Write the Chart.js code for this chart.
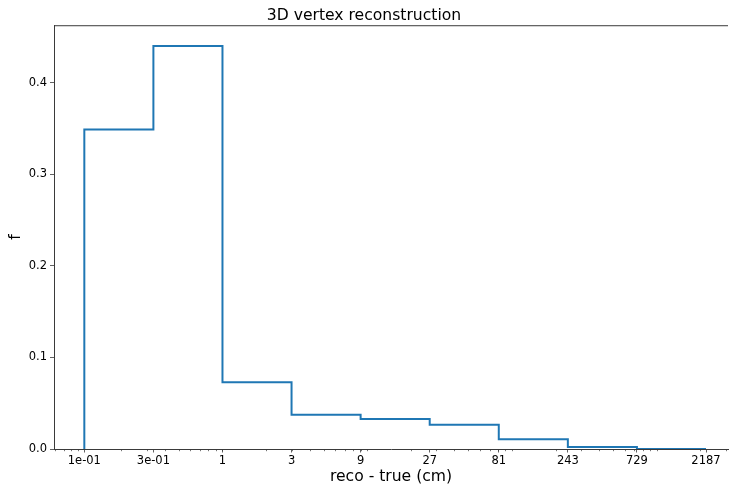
<!DOCTYPE html>
<html>
<head>
<meta charset="utf-8">
<title>3D vertex reconstruction</title>
<script src="https://cdn.jsdelivr.net/npm/chart.js@4/dist/chart.umd.min.js"></script>
<style>
  html, body { margin: 0; padding: 0; background: #fff; }
  #wrap { width: 730px; height: 488px; }
</style>
</head>
<body>
<div id="wrap"><canvas id="c" width="730" height="488"></canvas></div>
<script>
// Histogram bin edges (powers of 3, in cm) and the fraction of events per bin
const binEdges = [1/9, 1/3, 1, 3, 9, 27, 81, 243, 729, 2187];
const fractions = [0.349, 0.4404, 0.0729, 0.0374, 0.0329, 0.0266, 0.0107, 0.0023, 0.0];

// Axis ticks
const xTickValues = [1/9, 1/3, 1, 3, 9, 27, 81, 243, 729, 2187];
const xTickLabels = ['1e-01', '3e-01', '1', '3', '9', '27', '81', '243', '729', '2187'];
const yTickValues = [0.0, 0.1, 0.2, 0.3, 0.4];

// Step outline: each point starts a bin at its left edge; the line runs
// across the bin and then steps to the next level
const outline = [{ x: binEdges[0], y: 0 }];
fractions.forEach((f, i) => outline.push({ x: binEdges[i], y: f }));
outline.push({ x: binEdges[binEdges.length - 1], y: 0 });

const AXIS_COLOR = '#3a3a3a';
const FONT = 'DejaVu Sans';

const whiteBackground = {
  id: 'whiteBackground',
  beforeDraw(chart) {
    const ctx = chart.ctx;
    ctx.save();
    ctx.fillStyle = '#ffffff';
    ctx.fillRect(0, 0, chart.width, chart.height);
    ctx.restore();
  }
};

// Top spine and log-decade minor ticks on the x axis
const frameAndMinorTicks = {
  id: 'frameAndMinorTicks',
  afterDraw(chart) {
    const { ctx, chartArea } = chart;
    const xs = chart.scales.x;
    ctx.save();
    ctx.strokeStyle = AXIS_COLOR;
    ctx.lineWidth = 1;
    ctx.beginPath();
    ctx.moveTo(chartArea.left, chartArea.top + 0.5);
    ctx.lineTo(chartArea.right, chartArea.top + 0.5);
    ctx.stroke();

    ctx.lineWidth = 0.7;
    ctx.beginPath();
    for (let k = -2; k <= 3; k++) {
      for (let m = 1; m <= 9; m++) {
        const v = m * Math.pow(10, k);
        if (v < xs.min || v > xs.max) continue;
        const px = Math.round(xs.getPixelForValue(v)) + 0.5;
        ctx.moveTo(px, chartArea.bottom);
        ctx.lineTo(px, chartArea.bottom + 2.2);
      }
    }
    ctx.stroke();
    ctx.restore();
  }
};

new Chart(document.getElementById('c'), {
  type: 'line',
  data: {
    datasets: [{
      data: outline,
      stepped: 'before',
      borderColor: '#1f77b4',
      borderWidth: 2,
      pointRadius: 0,
      fill: false,
      tension: 0
    }]
  },
  options: {
    responsive: false,
    animation: false,
    layout: { padding: { left: 0, right: 2, top: 0, bottom: 0 } },
    plugins: {
      legend: { display: false },
      tooltip: { enabled: false },
      title: {
        display: true,
        text: '3D vertex reconstruction',
        color: '#000',
        font: { family: FONT, size: 15.6, weight: 'normal' },
        padding: { top: 6.5, bottom: 0 }
      }
    },
    scales: {
      x: {
        type: 'logarithmic',
        min: 0.0686,
        max: 3103,
        afterBuildTicks(scale) {
          scale.ticks = xTickValues.map(v => ({ value: v }));
        },
        afterFit(scale) { scale.height = 39; },
        ticks: {
          autoSkip: false,
          maxRotation: 0,
          color: '#000',
          padding: 1.5,
          font: { family: FONT, size: 11.5 },
          callback: (v, i) => xTickLabels[i]
        },
        grid: {
          drawOnChartArea: false,
          drawTicks: true,
          tickLength: 3.5,
          tickColor: AXIS_COLOR,
          tickWidth: 0.8
        },
        border: { display: true, color: AXIS_COLOR, width: 1 },
        title: {
          display: true,
          text: 'reco - true (cm)',
          color: '#000',
          font: { family: FONT, size: 15.6 },
          padding: { top: 0, bottom: 1.6 }
        }
      },
      y: {
        type: 'linear',
        min: 0,
        max: 0.463,
        afterBuildTicks(scale) {
          scale.ticks = yTickValues.map(v => ({ value: v }));
        },
        afterFit(scale) { scale.width = 54; },
        ticks: {
          color: '#000',
          padding: 3,
          font: { family: FONT, size: 11.5 },
          callback: v => Number(v).toFixed(1)
        },
        grid: {
          drawOnChartArea: false,
          drawTicks: true,
          tickLength: 4,
          tickColor: AXIS_COLOR,
          tickWidth: 0.8
        },
        border: { display: true, color: AXIS_COLOR, width: 1 },
        title: {
          display: true,
          text: 'f',
          color: '#000',
          font: { family: FONT, size: 15.6 },
          padding: { top: 6.5, bottom: 0 }
        }
      }
    }
  },
  plugins: [whiteBackground, frameAndMinorTicks]
});
</script>
</body>
</html>
